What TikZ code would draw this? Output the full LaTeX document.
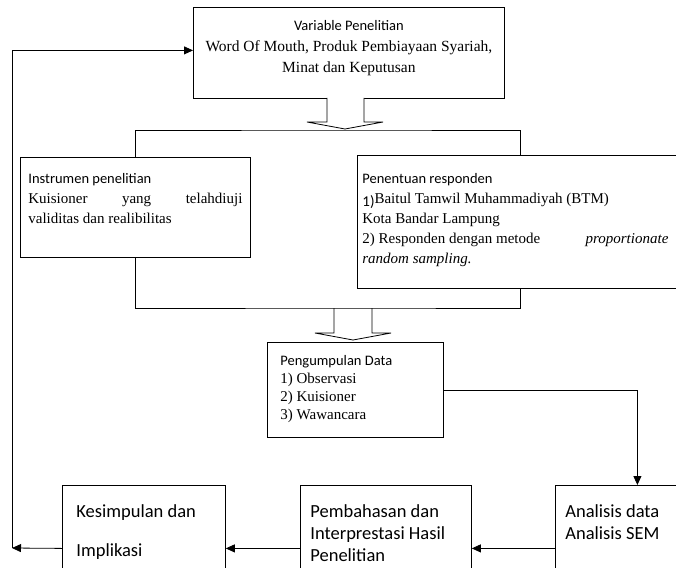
\documentclass[tikz,border=0pt]{standalone}
\usepackage{fontspec}
\setmainfont{Liberation Serif}
\newfontfamily\carlito{Carlito}
\usetikzlibrary{arrows.meta}

\begin{document}
\begin{tikzpicture}[x=1pt, y=-1pt,
    % Define node styles
    box/.style={draw=black, thick, anchor=north west, inner ysep=0pt},
    arr/.style={-{Triangle[length=9pt, width=8pt]}, thick},
    link/.style={thick},
    hollow/.style={draw=black, thick, fill=white}
]
    \useasboundingbox (0,0) rectangle (676,567);
    \clip (0,0) rectangle (676,567);

    % Create nodes
    \node[box, inner xsep=8pt] (var) at (193,7) {\parbox[c][91pt][t]{295pt}{\centering\vspace*{13pt}\fontsize{15.5}{21}\selectfont
        {\carlito\fontsize{14.5}{21}\selectfont Variable Penelitian}\\
        Word Of Mouth, Produk Pembiayaan Syariah,\\
        Minat dan Keputusan}};
    \node[box, inner xsep=8pt] (instr) at (20,157) {\parbox[c][100pt][t]{214pt}{\vspace*{16pt}\fontsize{15}{20}\selectfont
        {\carlito\fontsize{14.5}{20}\selectfont Instrumen penelitian}\\
        Kuisioner yang telahdiuji\linebreak validitas dan realibilitas}};
    \node[box, inner xsep=5pt] (pen) at (357,155) {\parbox[c][133pt][t]{316pt}{\rightskip=10pt\vspace*{18pt}\fontsize{15}{20}\selectfont
        {\carlito\fontsize{14.5}{20}\selectfont Penentuan responden}\\
        {\carlito\raisebox{-3pt}{1)}}Baitul Tamwil Muhammadiyah (BTM)\\
        Kota Bandar Lampung\\
        2)~Responden dengan metode\hfill\emph{proportionate}\\
        \emph{random sampling.}}};
    \node[box, inner xsep=13pt] (peng) at (267,342) {\parbox[c][95pt][t]{150pt}{\vspace*{13pt}\fontsize{15}{18}\selectfont
        {\carlito\fontsize{14.5}{18}\selectfont Pengumpulan Data}\\
        1)~Observasi\\
        2)~Kuisioner\\
        3)~Wawancara}};
    \node[box, inner xsep=10pt] (anal) at (555,485) {\parbox[c][100pt][t]{144pt}{\vspace*{19pt}\carlito\fontsize{18.5}{22}\selectfont
        Analisis data\\ Analisis SEM}};
    \node[box, inner xsep=10pt] (pemb) at (300,485) {\parbox[c][100pt][t]{151pt}{\vspace*{19pt}\carlito\fontsize{18.5}{22}\selectfont
        Pembahasan dan\\ Interprestasi Hasil\\ Penelitian}};
    \node[box, inner xsep=14pt] (kes) at (62,485) {\parbox[c][100pt][t]{135pt}{\vspace*{19pt}\carlito\fontsize{18.5}{39}\selectfont
        Kesimpulan dan\\ Implikasi}};

    % Block arrows and brackets
    \draw[hollow] (327,98) -- (327,122) -- (307,122) -- (345,129) -- (383,122) -- (364,122) -- (364,98);
    \draw[hollow] (334,308) -- (334,333) -- (315,333) -- (353,340) -- (391,333) -- (372,333) -- (372,308);
    \coordinate (brt) at (345,130);
    \coordinate (brb) at (353,308);
    \draw[link] (instr.north) |- (brt) -| (pen.north);
    \draw[link] (instr.south) |- (brb) -| (pen.south);

    % Draw arrows between nodes
    \coordinate (fb) at (12,548);
    \draw[arr] (peng.east) -| (anal.north);
    \draw[arr] ([yshift=-13pt]anal.west) -- ([yshift=-13pt]pemb.east);
    \draw[arr] ([yshift=-13pt]pemb.west) -- ([yshift=-13pt]kes.east);
    \draw[arr] ([yshift=-13pt]kes.west) -- (fb);
    \draw[arr] (fb) |- ([yshift=2.5pt]var.west);
\end{tikzpicture}
\end{document}
